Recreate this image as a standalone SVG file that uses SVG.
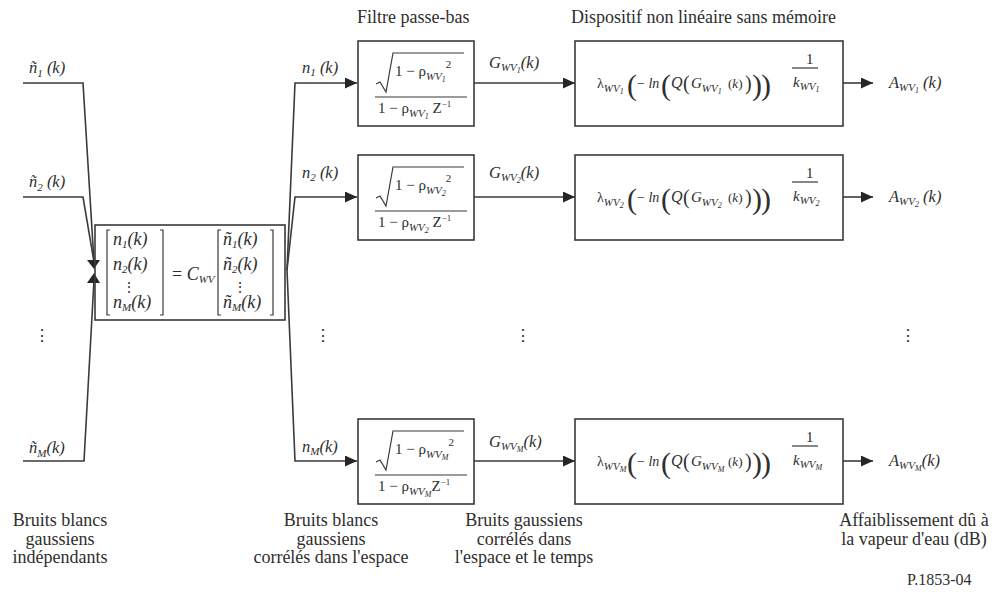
<svg xmlns="http://www.w3.org/2000/svg" width="995" height="592" viewBox="0 0 995 592" font-family="'Liberation Serif', 'Times New Roman', Times, 'DejaVu Serif', serif">
<style>
.t{font-family:'Liberation Serif','Times New Roman',Times,'DejaVu Serif',serif;fill:#2e2e2e}
.i{font-style:italic}
.box{fill:none;stroke:#3a3a3a;stroke-width:1.6}
.ln{fill:none;stroke:#3a3a3a;stroke-width:1.6}
.thin{fill:none;stroke:#3a3a3a;stroke-width:1.2}
.ah{fill:#262626}
.m{font-size:16.5px}
.mx{font-size:18px}
.sub{font-size:11px;font-style:italic}
.ss{font-size:8px;font-style:italic}
.lab{font-size:18px}
</style>
<defs>
<marker id="arr" markerUnits="userSpaceOnUse" markerWidth="13" markerHeight="12" refX="12" refY="5.5" orient="auto">
<path d="M0,0 L12,5.5 L0,11 z" class="ah"/>
</marker>
</defs>
<rect width="995" height="592" fill="#ffffff"/>

<text class="t" font-size="18" x="357" y="23">Filtre passe-bas</text>
<text class="t" font-size="18" x="571" y="23">Dispositif non linéaire sans mémoire</text>

<g id="connectors">
<path class="ln" d="M23,83 H83 L94,262"/>
<path class="ln" d="M23,197 H83 L94,262"/>
<path class="ln" d="M23,461 H84 L94,280"/>
<polygon class="ah" points="87,260 100,260 94,269"/>
<polygon class="ah" points="87,283 100,283 94,273"/>
<path class="ln" d="M287,270 L295,83 H357" marker-end="url(#arr)"/>
<path class="ln" d="M287,270 L295,197 H357" marker-end="url(#arr)"/>
<path class="ln" d="M287,270 L295,461 H357" marker-end="url(#arr)"/>
<path class="ln" d="M474,83 H575" marker-end="url(#arr)"/>
<path class="ln" d="M474,197 H575" marker-end="url(#arr)"/>
<path class="ln" d="M474,461 H575" marker-end="url(#arr)"/>
<path class="ln" d="M843,83 H873" marker-end="url(#arr)"/>
<path class="ln" d="M843,197 H873" marker-end="url(#arr)"/>
<path class="ln" d="M843,461 H873" marker-end="url(#arr)"/>
</g>

<g id="inputs">
<text class="t i m" x="29" y="73">ñ<tspan class="sub" dy="4">1</tspan><tspan dy="-4"> (k)</tspan></text>
<text class="t i m" x="29" y="187">ñ<tspan class="sub" dy="4">2</tspan><tspan dy="-4"> (k)</tspan></text>
<text class="t i m" x="29" y="453">ñ<tspan class="sub" dy="4">M</tspan><tspan dy="-4">(k)</tspan></text>
<text class="t" x="42" y="341" font-size="16" text-anchor="middle">⋮</text>
</g>

<g id="matrix">
<rect class="box" x="95" y="225" width="190" height="95"/>
<path class="thin" d="M110,230 H107 V315 H110"/>
<path class="thin" d="M160,230 H163 V315 H160"/>
<path class="thin" d="M221,230 H218 V315 H221"/>
<path class="thin" d="M270,230 H273 V315 H270"/>
<text class="t i mx" x="113" y="245">n<tspan class="sub" font-size="12" dy="3">1</tspan><tspan dy="-3">(k)</tspan></text>
<text class="t i mx" x="113" y="270">n<tspan class="sub" font-size="12" dy="3">2</tspan><tspan dy="-3">(k)</tspan></text>
<text class="t" x="129" y="292" font-size="14" text-anchor="middle">⋮</text>
<text class="t i mx" x="113" y="308">n<tspan class="sub" font-size="12" dy="3">M</tspan><tspan dy="-3">(k)</tspan></text>
<text class="t mx" x="172" y="280">= <tspan class="i">C</tspan><tspan class="sub" font-size="12" dy="3">WV</tspan></text>
<text class="t i mx" x="223" y="245">ñ<tspan class="sub" font-size="12" dy="3">1</tspan><tspan dy="-3">(k)</tspan></text>
<text class="t i mx" x="223" y="270">ñ<tspan class="sub" font-size="12" dy="3">2</tspan><tspan dy="-3">(k)</tspan></text>
<text class="t" x="240" y="292" font-size="14" text-anchor="middle">⋮</text>
<text class="t i mx" x="223" y="308">ñ<tspan class="sub" font-size="12" dy="3">M</tspan><tspan dy="-3">(k)</tspan></text>
</g>

<g id="mid-dots">
<text class="t" x="323" y="341" font-size="16" text-anchor="middle">⋮</text>
<text class="t" x="523" y="341" font-size="16" text-anchor="middle">⋮</text>
<text class="t" x="908" y="341" font-size="16" text-anchor="middle">⋮</text>
</g>

<!-- Row 1 -->
<g id="row1-labels">
<text class="t i m" x="302" y="73">n<tspan class="sub" dy="3">1</tspan><tspan dy="-3"> (k)</tspan></text>
<text class="t i m" x="489" y="68">G<tspan class="sub" dy="3">WV</tspan><tspan class="ss" dy="2">1</tspan><tspan dy="-5">(k)</tspan></text>
<text class="t i m" x="889" y="88">A<tspan class="sub" dy="3">WV</tspan><tspan class="ss" dy="2">1</tspan><tspan dy="-5"> (k)</tspan></text>
</g>
<g id="filter1" transform="translate(0,83)">
<rect class="box" x="358" y="-42" width="116" height="85"/>
<path class="thin" d="M376,1 L380,-1 L386,9 L393,-30 H464"/>
<text class="t" font-size="15" x="395" y="-7">1 − ρ<tspan class="sub" dy="4">WV</tspan><tspan class="ss" dy="2">1</tspan><tspan font-size="11" dy="-14">2</tspan></text>
<line class="thin" x1="375" y1="14" x2="467" y2="14"/>
<text class="t" font-size="15" x="378" y="30">1 − ρ<tspan class="sub" dy="4">WV</tspan><tspan class="ss" dy="2">1</tspan><tspan dy="-6"> Z</tspan><tspan font-size="9" dy="-6">−1</tspan></text>
</g>
<g id="nonlin1" transform="translate(0,83)">
<rect class="box" x="575" y="-42" width="268" height="85"/>
<text class="t" font-size="14" x="597" y="5">λ<tspan class="sub" dy="4">WV</tspan><tspan class="ss" dy="2">1</tspan></text>
<text class="t" font-size="30" x="627" y="12">(</text>
<text class="t" font-size="14" x="637" y="5">− <tspan class="i">ln</tspan></text>
<text class="t" font-size="30" x="661" y="12">(</text>
<text class="t i" font-size="16" x="671" y="5">Q</text>
<text class="t" font-size="20" x="683" y="7">(</text>
<text class="t i" font-size="15" x="691" y="5">G<tspan class="sub" dy="4">WV</tspan><tspan class="ss" dy="2">1</tspan></text>
<text class="t" font-size="13" x="728" y="5">(<tspan class="i">k</tspan>)</text>
<text class="t" font-size="20" x="745" y="7">)</text>
<text class="t" font-size="30" x="752" y="12">)</text>
<text class="t" font-size="30" x="761" y="12">)</text>
<text class="t" font-size="15" x="806" y="-19">1</text>
<line class="thin" x1="792" y1="-15" x2="818" y2="-15"/>
<text class="t i" font-size="15" x="793" y="4">k<tspan class="sub" dy="3">WV</tspan><tspan class="ss" dy="2">1</tspan></text>
</g>

<!-- Row 2 -->
<g id="row2-labels">
<text class="t i m" x="302" y="178">n<tspan class="sub" dy="3">2</tspan><tspan dy="-3"> (k)</tspan></text>
<text class="t i m" x="489" y="178">G<tspan class="sub" dy="3">WV</tspan><tspan class="ss" dy="2">2</tspan><tspan dy="-5">(k)</tspan></text>
<text class="t i m" x="889" y="202">A<tspan class="sub" dy="3">WV</tspan><tspan class="ss" dy="2">2</tspan><tspan dy="-5"> (k)</tspan></text>
</g>
<g id="filter2" transform="translate(0,197)">
<rect class="box" x="358" y="-42" width="116" height="85"/>
<path class="thin" d="M376,1 L380,-1 L386,9 L393,-30 H464"/>
<text class="t" font-size="15" x="395" y="-7">1 − ρ<tspan class="sub" dy="4">WV</tspan><tspan class="ss" dy="2">2</tspan><tspan font-size="11" dy="-14">2</tspan></text>
<line class="thin" x1="375" y1="14" x2="467" y2="14"/>
<text class="t" font-size="15" x="378" y="30">1 − ρ<tspan class="sub" dy="4">WV</tspan><tspan class="ss" dy="2">2</tspan><tspan dy="-6"> Z</tspan><tspan font-size="9" dy="-6">−1</tspan></text>
</g>
<g id="nonlin2" transform="translate(0,197)">
<rect class="box" x="575" y="-42" width="268" height="85"/>
<text class="t" font-size="14" x="597" y="5">λ<tspan class="sub" dy="4">WV</tspan><tspan class="ss" dy="2">2</tspan></text>
<text class="t" font-size="30" x="627" y="12">(</text>
<text class="t" font-size="14" x="637" y="5">− <tspan class="i">ln</tspan></text>
<text class="t" font-size="30" x="661" y="12">(</text>
<text class="t i" font-size="16" x="671" y="5">Q</text>
<text class="t" font-size="20" x="683" y="7">(</text>
<text class="t i" font-size="15" x="691" y="5">G<tspan class="sub" dy="4">WV</tspan><tspan class="ss" dy="2">2</tspan></text>
<text class="t" font-size="13" x="728" y="5">(<tspan class="i">k</tspan>)</text>
<text class="t" font-size="20" x="745" y="7">)</text>
<text class="t" font-size="30" x="752" y="12">)</text>
<text class="t" font-size="30" x="761" y="12">)</text>
<text class="t" font-size="15" x="806" y="-19">1</text>
<line class="thin" x1="792" y1="-15" x2="818" y2="-15"/>
<text class="t i" font-size="15" x="793" y="4">k<tspan class="sub" dy="3">WV</tspan><tspan class="ss" dy="2">2</tspan></text>
</g>

<!-- Row M -->
<g id="rowM-labels">
<text class="t i m" x="302" y="452">n<tspan class="sub" dy="3">M</tspan><tspan dy="-3">(k)</tspan></text>
<text class="t i m" x="489" y="447">G<tspan class="sub" dy="3">WV</tspan><tspan class="ss" dy="2">M</tspan><tspan dy="-5">(k)</tspan></text>
<text class="t i m" x="889" y="466">A<tspan class="sub" dy="3">WV</tspan><tspan class="ss" dy="2">M</tspan><tspan dy="-5">(k)</tspan></text>
</g>
<g id="filterM" transform="translate(0,461)">
<rect class="box" x="358" y="-42" width="116" height="85"/>
<path class="thin" d="M376,1 L380,-1 L386,9 L393,-30 H464"/>
<text class="t" font-size="15" x="395" y="-7">1 − ρ<tspan class="sub" dy="4">WV</tspan><tspan class="ss" dy="2">M</tspan><tspan font-size="11" dy="-14">2</tspan></text>
<line class="thin" x1="375" y1="14" x2="467" y2="14"/>
<text class="t" font-size="15" x="378" y="30">1 − ρ<tspan class="sub" dy="4">WV</tspan><tspan class="ss" dy="2">M</tspan><tspan dy="-6">Z</tspan><tspan font-size="9" dy="-6">−1</tspan></text>
</g>
<g id="nonlinM" transform="translate(0,461)">
<rect class="box" x="575" y="-42" width="268" height="85"/>
<text class="t" font-size="14" x="597" y="5">λ<tspan class="sub" dy="4">WV</tspan><tspan class="ss" dy="2">M</tspan></text>
<text class="t" font-size="30" x="627" y="12">(</text>
<text class="t" font-size="14" x="637" y="5">− <tspan class="i">ln</tspan></text>
<text class="t" font-size="30" x="661" y="12">(</text>
<text class="t i" font-size="16" x="671" y="5">Q</text>
<text class="t" font-size="20" x="683" y="7">(</text>
<text class="t i" font-size="15" x="691" y="5">G<tspan class="sub" dy="4">WV</tspan><tspan class="ss" dy="2">M</tspan></text>
<text class="t" font-size="13" x="728" y="5">(<tspan class="i">k</tspan>)</text>
<text class="t" font-size="20" x="745" y="7">)</text>
<text class="t" font-size="30" x="752" y="12">)</text>
<text class="t" font-size="30" x="761" y="12">)</text>
<text class="t" font-size="15" x="806" y="-19">1</text>
<line class="thin" x1="792" y1="-15" x2="818" y2="-15"/>
<text class="t i" font-size="15" x="793" y="4">k<tspan class="sub" dy="3">WV</tspan><tspan class="ss" dy="2">M</tspan></text>
</g>

<g id="captions">
<text class="t lab" text-anchor="middle" x="60" y="526">Bruits blancs<tspan x="60" dy="18.5">gaussiens</tspan><tspan x="60" dy="18.5">indépendants</tspan></text>
<text class="t lab" text-anchor="middle" x="331" y="526">Bruits blancs<tspan x="331" dy="18.5">gaussiens</tspan><tspan x="331" dy="18.5">corrélés dans l'espace</tspan></text>
<text class="t lab" text-anchor="middle" x="524" y="526">Bruits gaussiens<tspan x="524" dy="18.5">corrélés dans</tspan><tspan x="524" dy="18.5">l'espace et le temps</tspan></text>
<text class="t lab" text-anchor="middle" x="914" y="526">Affaiblissement dû à<tspan x="914" dy="19">la vapeur d'eau (dB)</tspan></text>
<text class="t" font-size="16" x="907" y="585">P.1853-04</text>
</g>
</svg>
